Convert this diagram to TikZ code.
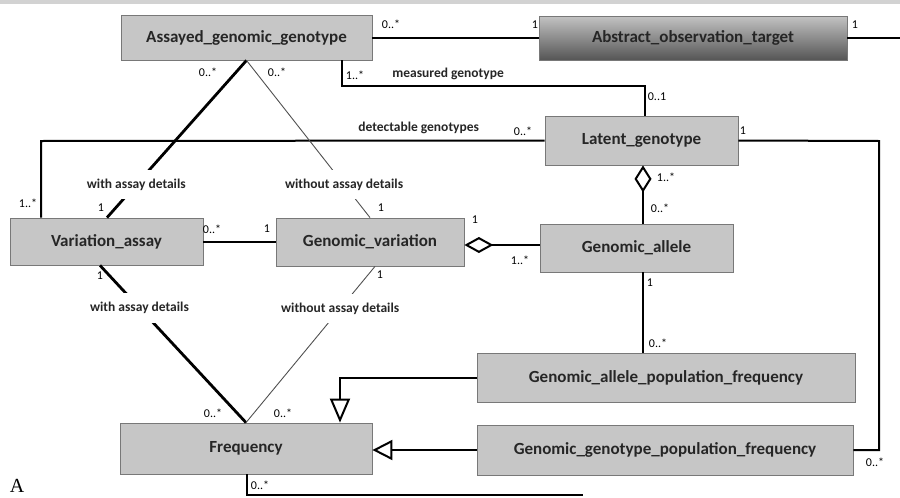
\documentclass[tikz,border=0pt]{standalone}
\usepackage{fontspec}
\setmainfont{Carlito}
\newfontfamily\figletter{Liberation Serif}
\usetikzlibrary{arrows.meta}

\definecolor{boxfill}{RGB}{198,198,198}
\definecolor{boxedge}{RGB}{120,120,120}
\definecolor{thinline}{RGB}{80,80,80}
\definecolor{shadetop}{RGB}{195,195,195}
\definecolor{shadebot}{RGB}{85,85,85}

\begin{document}
\begin{tikzpicture}[x=1pt,y=-1pt,
  cls/.style={rectangle, draw=boxedge, line width=0.8pt, fill=boxfill,
    font=\fontsize{17}{19}\selectfont\bfseries, text=black!85, inner sep=0pt},
  mult/.style={font=\fontsize{12}{13}\selectfont, inner sep=0pt},
  role/.style={font=\fontsize{13.5}{15}\selectfont\bfseries, text=black!85, inner sep=0pt},
  gaplabel/.style={role, fill=white, inner xsep=2pt, inner ysep=9pt},
  assoc/.style={line width=2pt, black},
  strong/.style={line width=2.8pt, black},
  weak/.style={line width=0.9pt, thinline},
]
\useasboundingbox (0,0) rectangle (900,498);
\fill[gray!35] (0,0) rectangle (900,4);

% classes
\node[cls, minimum width=251pt, minimum height=45pt] (ag) at (246.5,37.5) {Assayed\_genomic\_genotype};
\node[cls, minimum width=308pt, minimum height=44pt, top color=shadetop, bottom color=shadebot] (aot) at (693,38) {Abstract\_observation\_target};
\node[cls, minimum width=193pt, minimum height=49pt] (lg) at (641.5,140.5) {Latent\_genotype};
\node[cls, minimum width=193pt, minimum height=47pt] (va) at (106.5,241.5) {Variation\_assay};
\node[cls, minimum width=188pt, minimum height=48pt] (gv) at (370,242) {Genomic\_variation};
\node[cls, minimum width=193pt, minimum height=48pt] (ga) at (636.5,248) {Genomic\_allele};
\node[cls, minimum width=378pt, minimum height=49pt] (gapf) at (666,377.5) {Genomic\_allele\_population\_frequency};
\node[cls, minimum width=376pt, minimum height=50pt] (ggpf) at (665,450) {Genomic\_genotype\_population\_frequency};
\node[cls, minimum width=252pt, minimum height=51pt] (fr) at (246,448.5) {Frequency};

% bend points
\coordinate (offR) at (900,38);
\coordinate (m1) at (342,86);
\coordinate (m2) at (645,86);
\coordinate (d1) at (41,141);
\coordinate (r1) at (879,141);
\coordinate (r2) at (879,450);
\coordinate (ax) at (643,0);
\coordinate (ay) at (0,245);
\coordinate (g1) at (340,377.5);
\coordinate (b1) at (247,495);
\coordinate (b2) at (583,495);

% associations
\draw[assoc] (ag.east) -- (ag.east -| aot.west);
\draw[assoc] (aot.east) -- (offR);
\draw[assoc] (m1 |- ag.south) -- (m1) -- node[role, pos=0.35, above=5pt]{measured genotype} (m2) -- (m2 |- lg.north);
\draw[assoc] (lg.west) -- node[role, pos=0.25, above=6pt]{detectable genotypes} (d1) -- (d1 |- va.north);
\draw[assoc] (lg.east) -- (r1) -- (r2) -- (ggpf.east |- r2);
\draw[assoc] (va.east) -- (va.east -| gv.west);

\draw[strong] (ag.south) -- node[gaplabel, pos=0.79]{with assay details} (va.north -| 107,0);
\draw[weak] (ag.south) -- node[gaplabel, pos=0.79]{without assay details} (gv.north -| 370,0);
\draw[strong] (va.south -| 100,0) -- node[gaplabel, pos=0.27]{with assay details} (fr.north);
\draw[weak] (gv.south -| 375,0) -- node[gaplabel, pos=0.27]{without assay details} (fr.north);

% aggregations
\draw[assoc, {Diamond[open, length=27pt, width=17pt]}-] (lg.south -| ax) -- (ga.north -| ax);
\draw[assoc, {Diamond[open, length=29pt, width=16pt]}-] (gv.east |- ay) -- (ga.west |- ay);
\draw[assoc] (ga.south -| ax) -- (gapf.north -| ax);

% generalizations
\draw[assoc, -{Triangle[open, length=24pt, width=20pt]}] (gapf.west) -- (g1) -- (g1 |- fr.north);
\draw[assoc, -{Triangle[open, length=20pt, width=20pt]}] (ggpf.west) -- (ggpf.west -| fr.east);

\draw[strong] (fr.south -| b1) -- (b1) -- (b2);

% multiplicities
\node[mult] (u1) at (391,24) {0..*};
\node[mult] (u2) at (535,25) {1};
\node[mult] (u3) at (855,25) {1};
\node[mult] (u4) at (208,72) {0..*};
\node[mult] (u5) at (277,72) {0..*};
\node[mult] (u6) at (355,75) {1..*};
\node[mult] (u7) at (657,97) {0..1};
\node[mult] (u8) at (523,131) {0..*};
\node[mult] (u9) at (743,131) {1};
\node[mult] (u10) at (28,203) {1..*};
\node[mult] (u11) at (101,208) {1};
\node[mult] (u12) at (381,208) {1};
\node[mult] (u13) at (212,229) {0..*};
\node[mult] (u14) at (267,229) {1};
\node[mult] (u15) at (666,177) {1..*};
\node[mult] (u16) at (660,208) {0..*};
\node[mult] (u17) at (475,220) {1};
\node[mult] (u18) at (520,260) {1..*};
\node[mult] (u19) at (100,276) {1};
\node[mult] (u20) at (380,275) {1};
\node[mult] (u21) at (650,283) {1};
\node[mult] (u22) at (658,343) {0..*};
\node[mult] (u23) at (213,413) {0..*};
\node[mult] (u24) at (283,413) {0..*};
\node[mult] (u25) at (875,462) {0..*};
\node[mult] (u26) at (260,485) {0..*};

\node[font=\figletter\fontsize{20}{22}\selectfont, inner sep=0pt] (figA) at (17,486) {A};
\end{tikzpicture}
\end{document}
